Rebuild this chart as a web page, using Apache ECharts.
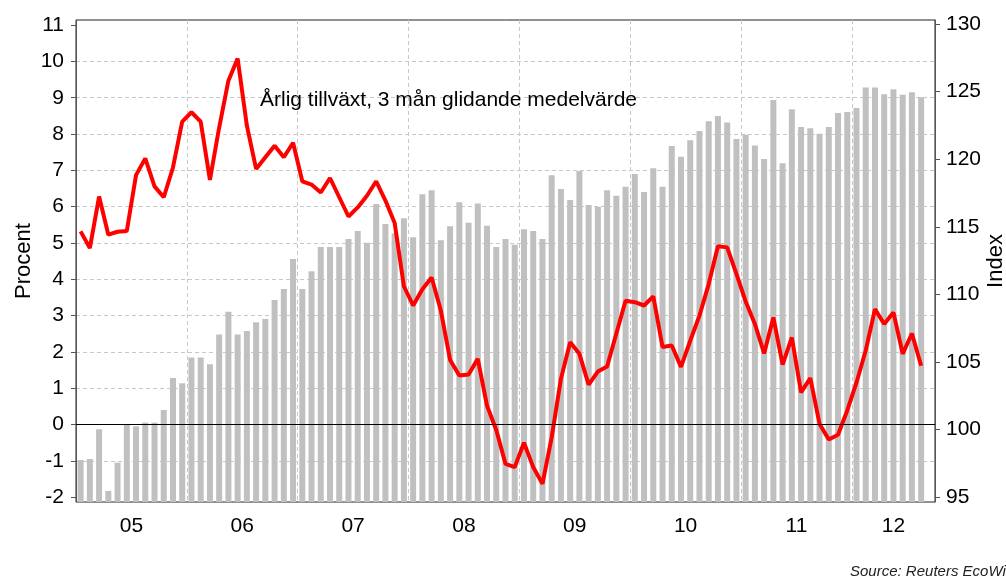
<!DOCTYPE html>
<html><head><meta charset="utf-8">
<script src="https://cdn.jsdelivr.net/npm/echarts@6/dist/echarts.min.js"></script>
<style>html,body{margin:0;padding:0;background:#fff}#c{width:1006px;height:576px}</style>
</head><body><div id="c"></div>
<script>
const years = ['05','06','07','08','09','10','11','12'];
const monthsPerYear = [12,12,12,12,12,12,12,9];
const yearLabelPositions = [6,18,30,42,54,66,78,88.5];
const leftTicks = [-2,-1,0,1,2,3,4,5,6,7,8,9,10,11];
const rightTicks = [95,100,105,110,115,120,125,130];

const categories = [];
years.forEach((y,i)=>{ for(let m=1;m<=monthsPerYear[i];m++){ categories.push('20'+y+'-'+String(m).padStart(2,'0')); } });

const indexValues = [
 97.76,97.83,100.03,95.47,97.56,100.37,100.25,100.52,100.52,101.46,103.82,103.43,
 105.33,105.33,104.84,107.03,108.73,107.03,107.30,107.94,108.19,109.59,110.41,112.63,
 110.41,111.72,113.51,113.51,113.51,114.10,114.69,113.83,116.69,115.21,114.53,115.64,
 114.23,117.41,117.71,114.01,115.04,116.82,115.31,116.72,115.09,113.51,114.10,113.68,
 114.82,114.69,114.10,118.82,117.80,116.99,119.13,116.62,116.49,117.71,117.31,117.97,
 118.91,117.58,119.33,117.97,120.98,120.19,121.40,122.09,122.81,123.20,122.71,121.50,
 121.82,121.01,120.02,124.39,119.70,123.70,122.39,122.29,121.89,122.39,123.42,123.50,
 123.79,125.30,125.30,124.81,125.18,124.78,124.96,124.59
];
const growthValues = [
 5.32,4.86,6.28,5.23,5.31,5.33,6.87,7.33,6.56,6.26,7.08,8.34,
 8.60,8.34,6.74,8.18,9.47,10.08,8.23,7.04,7.36,7.68,7.36,7.76,
 6.70,6.61,6.39,6.79,6.26,5.73,5.98,6.30,6.70,6.17,5.55,3.81,
 3.28,3.73,4.05,3.14,1.78,1.35,1.38,1.81,0.52,-0.15,-1.08,-1.17,
 -0.50,-1.17,-1.63,-0.35,1.26,2.27,1.95,1.10,1.46,1.60,2.51,3.41,
 3.37,3.28,3.53,2.14,2.18,1.59,2.31,3.00,3.87,4.91,4.88,4.15,
 3.39,2.77,1.96,2.95,1.65,2.40,0.89,1.28,0.02,-0.41,-0.28,0.39,
 1.16,2.04,3.18,2.77,3.09,1.95,2.51,1.62
];

const FONT = '"Liberation Sans", Arial, Helvetica, sans-serif';
const GRID_COLOR = '#c8c8c8';
const AXIS_COLOR = '#555';

const chart = echarts.init(document.getElementById('c'), null, {renderer:'canvas'});
chart.setOption({
  animation:false,
  backgroundColor:'#fff',
  textStyle:{fontFamily:FONT},
  title:[
    {text:'Årlig tillväxt, 3 mån glidande medelvärde', left:260, top:90, padding:0,
     textStyle:{fontSize:21, fontWeight:'normal', color:'#000', fontFamily:FONT}},
    {text:'Source: Reuters EcoWin', left:850, top:564, padding:0,
     textStyle:{fontSize:15, fontStyle:'italic', fontWeight:'normal', color:'#222', fontFamily:FONT}}
  ],
  grid:{left:76, right:71, top:20, bottom:74, show:true, borderColor:'#222', borderWidth:1,
        containLabel:false, outerBoundsMode:'none'},
  xAxis:[
    {type:'category', data:categories, boundaryGap:true,
     axisLine:{lineStyle:{color:AXIS_COLOR}},
     axisTick:{interval:(i)=>i%12===0, length:5, lineStyle:{color:AXIS_COLOR}},
     axisLabel:{show:false},
     splitLine:{show:true, interval:(i)=>i%12===0 && i>0, lineStyle:{color:GRID_COLOR, type:[4,3]}}},
    {type:'value', min:0, max:categories.length, position:'bottom',
     axisLine:{show:false}, axisTick:{show:false}, splitLine:{show:false},
     axisLabel:{customValues:yearLabelPositions, fontSize:21, color:'#000', margin:14, fontFamily:FONT,
       formatter:(v)=>{const k=yearLabelPositions.indexOf(v); return k>=0?years[k]:'';}}}
  ],
  yAxis:[
    {type:'value', position:'left', min:-2.13, max:11.14, minInterval:1, maxInterval:1, splitNumber:13,
     name:'Procent', nameLocation:'middle', nameGap:41, nameMoveOverlap:false,
     nameTextStyle:{fontSize:22, color:'#000', fontFamily:FONT},
     axisLine:{show:true, lineStyle:{color:AXIS_COLOR}},
     axisTick:{show:true, length:5, customValues:leftTicks, lineStyle:{color:AXIS_COLOR}},
     axisLabel:{customValues:leftTicks, fontSize:21, color:'#000', margin:12, fontFamily:FONT,
       formatter:(v)=>Number.isInteger(v)?String(v):''},
     splitLine:{show:true, showMinLine:false, showMaxLine:false, lineStyle:{color:GRID_COLOR, type:[4,3]}}},
    {type:'value', position:'right', min:94.65, max:130.3, minInterval:5, maxInterval:5,
     name:'Index', nameLocation:'middle', nameGap:50, nameMoveOverlap:false,
     nameTextStyle:{fontSize:22, color:'#000', fontFamily:FONT},
     axisLine:{show:true, lineStyle:{color:AXIS_COLOR}},
     axisTick:{show:true, length:5, customValues:rightTicks, lineStyle:{color:AXIS_COLOR}},
     axisLabel:{customValues:rightTicks, fontSize:21, color:'#000', margin:11, fontFamily:FONT,
       formatter:(v)=>(v%5===0)?String(v):''},
     splitLine:{show:false}}
  ],
  series:[
    {type:'bar', name:'Index', xAxisIndex:0, yAxisIndex:1, data:indexValues, barWidth:6,
     itemStyle:{color:'#c0c0c0'}, z:2},
    {type:'line', name:'Procent', xAxisIndex:0, yAxisIndex:0, data:growthValues, symbol:'none',
     lineStyle:{color:'#ff0000', width:4}, z:4,
     markLine:{silent:true, symbol:'none', label:{show:false},
       lineStyle:{color:'#000', width:1, type:'solid'}, data:[{yAxis:0}]}}
  ]
});
</script></body></html>
